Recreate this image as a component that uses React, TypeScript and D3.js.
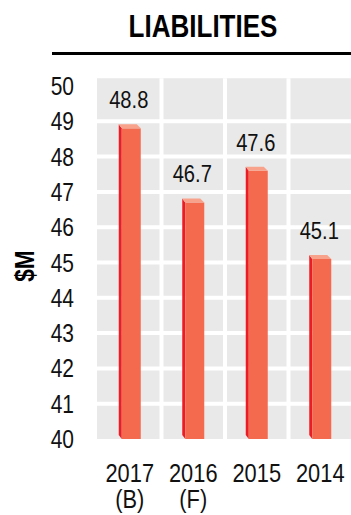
import React from "react";
import * as d3 from "d3";

const categories = ["2017 (B)", "2016 (F)", "2015", "2014"];
const categoryLines = [["2017", "(B)"], ["2016", "(F)"], ["2015"], ["2014"]];
const values = [48.8, 46.7, 47.6, 45.1];
const yTicks = [40, 41, 42, 43, 44, 45, 46, 47, 48, 49, 50];
const title = "LIABILITIES";
const yLabel = "$M";

const W = 351;
const H = 515;
const FONT = "'Liberation Sans', Arial, sans-serif";
const NARROW = 0.84;

function NText(props: {
  x: number;
  y: number;
  size: number;
  anchor?: string;
  bold?: boolean;
  rotate?: number;
  dy?: string;
  children: React.ReactNode;
}) {
  const { x, y, size, anchor = "middle", bold = false, rotate = 0, dy, children } = props;
  return (
    <text
      transform={`translate(${x},${y}) rotate(${rotate}) scale(${NARROW},1)`}
      textAnchor={anchor}
      dy={dy}
      fontFamily={FONT}
      fontWeight={bold ? "bold" : "normal"}
      fontSize={size}
      fill={bold ? "#000" : "#111"}
    >
      {children}
    </text>
  );
}

export default function App() {
  const x = d3.scaleBand<string>().domain(categories).range([98, 352]).padding(0);
  const y = d3.scaleLinear().domain([40, 50]).range([439, 86]);
  const plotLeft = 97;
  const plotRight = W;
  const plotTop = y(50.22);
  const plotBottom = y(40);

  const bandEdges = categories.slice(1).map((c) => x(c) as number);

  return (
    <svg width={W} height={H} style={{ position: "absolute", left: 0, top: 0, background: "#fff" }}>
      <NText x={203} y={37} size={31} bold>
        {title}
      </NText>
      <line x1={52} x2={W} y1={53.5} y2={53.5} stroke="#000" strokeWidth={3} />

      <rect x={plotLeft} y={plotTop} width={plotRight - plotLeft} height={plotBottom - plotTop} fill="#e9e9e9" />
      {yTicks.slice(1, -1).map((t) => (
        <line key={"h" + t} x1={plotLeft} x2={plotRight} y1={y(t)} y2={y(t)} stroke="#fff" strokeWidth={4} />
      ))}
      {bandEdges.map((e, i) => (
        <line key={"v" + i} x1={e} x2={e} y1={plotTop} y2={plotBottom} stroke="#fff" strokeWidth={4} />
      ))}

      {yTicks.map((t) => (
        <NText key={"t" + t} x={74} y={y(t)} dy="0.36em" anchor="end" size={25}>
          {t}
        </NText>
      ))}

      <NText x={34} y={266} rotate={-90} size={27} bold>
        {yLabel}
      </NText>

      {values.map((v, i) => {
        const cx = (x(categories[i]) as number) + x.bandwidth() / 2;
        const fx = cx - 8;
        const fw = 19;
        const yt = y(v);
        const yb = y(40);
        return (
          <g key={"b" + i}>
            <polygon
              points={`${fx - 3},${yt - 4} ${fx},${yt} ${fx},${yb} ${fx - 3},${yb - 4}`}
              fill="#ec1c24"
            />
            <rect x={fx} y={yt} width={fw} height={yb - yt} fill="#f36a4e" />
            <polygon
              points={`${fx - 3},${yt - 4} ${fx + fw - 4},${yt - 4} ${fx + fw},${yt} ${fx},${yt}`}
              fill="#f9a28b"
            />
            <NText x={cx - 1} y={yt - 20} size={24}>
              {v.toFixed(1)}
            </NText>
          </g>
        );
      })}

      {categoryLines.map((lines, i) => {
        const cx = (x(categories[i]) as number) + x.bandwidth() / 2;
        return (
          <g key={"c" + i}>
            {lines.map((l, j) => (
              <NText key={j} x={cx} y={482 + j * 26} size={26}>
                {l}
              </NText>
            ))}
          </g>
        );
      })}
    </svg>
  );
}
